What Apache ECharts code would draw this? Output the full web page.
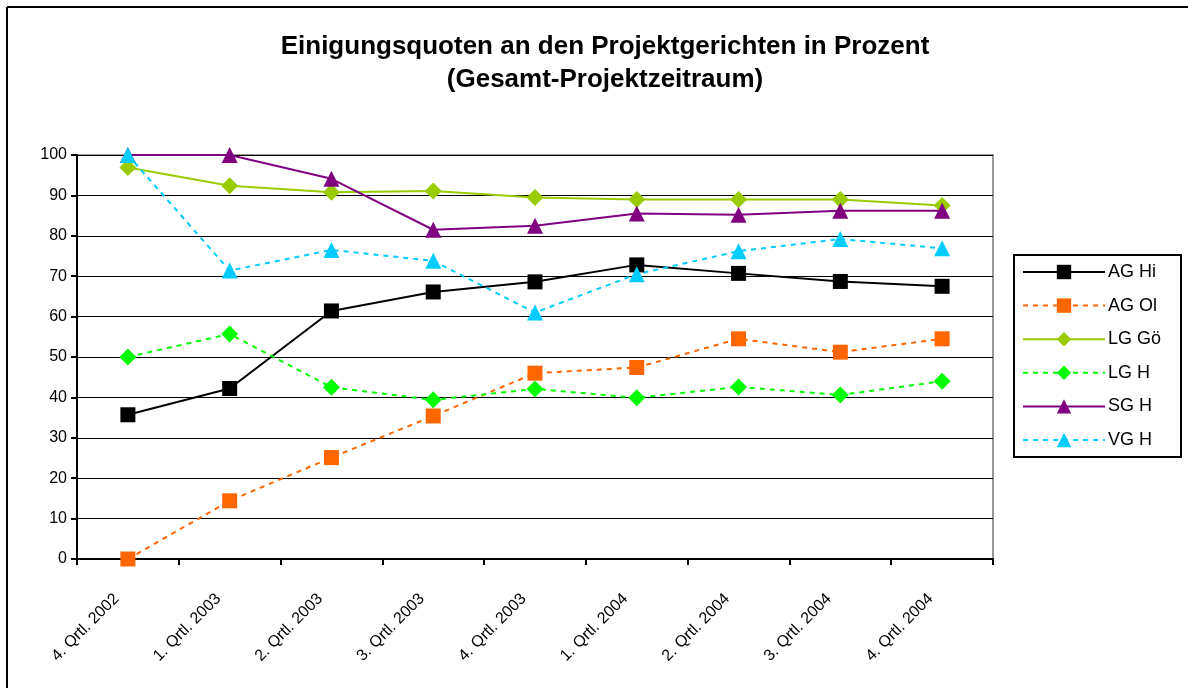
<!DOCTYPE html>
<html>
<head>
<meta charset="utf-8">
<script src="https://cdn.jsdelivr.net/npm/echarts@6/dist/echarts.min.js"></script>
<style>
html,body{margin:0;padding:0;background:#fff;}
#chart{width:1188px;height:688px;}
</style>
</head>
<body>
<div id="chart"></div>
<script>
const categories = ['4. Qrtl. 2002','1. Qrtl. 2003','2. Qrtl. 2003','3. Qrtl. 2003','4. Qrtl. 2003','1. Qrtl. 2004','2. Qrtl. 2004','3. Qrtl. 2004','4. Qrtl. 2004'];
const agHi = [35.7, 42.2, 61.4, 66.1, 68.6, 72.8, 70.7, 68.7, 67.5];
const agOl = [0, 14.4, 25.1, 35.4, 46.0, 47.4, 54.5, 51.2, 54.5];
const lgGoe = [96.9, 92.4, 90.8, 91.1, 89.5, 89.0, 89.0, 89.0, 87.5];
const lgH = [50.0, 55.7, 42.5, 39.4, 42.1, 39.9, 42.6, 40.6, 44.0];
const sgH = [100, 100, 94.1, 81.5, 82.5, 85.5, 85.2, 86.2, 86.2];
const vgH = [100, 71.4, 76.5, 73.8, 61.0, 70.5, 76.2, 79.2, 76.9];
const yTicks = {min: 0, max: 100, interval: 10};

const chart = echarts.init(document.getElementById('chart'), null, {renderer: 'canvas'});
const font = 'Liberation Sans, Arial, sans-serif';
function mk(name, data, color, symbol, dashed, size) {
  return {
    name: name, type: 'line', data: data,
    symbol: symbol, symbolSize: size, showSymbol: true,
    itemStyle: {color: color},
    lineStyle: {color: color, width: 2, type: dashed ? [5, 5] : 'solid'},
    emphasis: {disabled: true},
    animation: false
  };
}
chart.setOption({
  backgroundColor: '#ffffff',
  animation: false,
  title: {
    text: 'Einigungsquoten an den Projektgerichten in Prozent\n(Gesamt-Projektzeitraum)',
    left: 600, top: 25, textAlign: 'center',
    textStyle: {fontFamily: font, fontSize: 26, fontWeight: 'bold', color: '#000', lineHeight: 33}
  },
  graphic: [
    {type: 'line', shape: {x1: 7, y1: 7, x2: 1188, y2: 7}, style: {stroke: '#000', lineWidth: 2}, z: 100},
    {type: 'line', shape: {x1: 7, y1: 7, x2: 7, y2: 688}, style: {stroke: '#000', lineWidth: 2}, z: 100},
    {type: 'rect', shape: {x: 1014, y: 255, width: 167, height: 202}, style: {fill: 'none', stroke: '#000', lineWidth: 2}, z: 100}
  ],
  legend: {
    orient: 'vertical',
    left: 1014, top: 255,
    padding: [8, 6, 8, 8],
    itemWidth: 82, itemHeight: 18, itemGap: 15.6,
    textStyle: {fontFamily: font, fontSize: 18, color: '#000', padding: [0, 0, 0, -2]},
    data: ['AG Hi','AG Ol','LG Gö','LG H','SG H','VG H']
  },
  grid: {left: 77, right: 195, top: 155, bottom: 129, show: true, borderColor: '#999', borderWidth: 2, backgroundColor: 'transparent'},
  xAxis: {
    type: 'category', data: categories, boundaryGap: true,
    axisLine: {lineStyle: {color: '#000', width: 2}},
    axisTick: {show: true, length: 6, lineStyle: {color: '#000', width: 2}},
    axisLabel: {rotate: 45, fontFamily: font, fontSize: 16, color: '#000', margin: 26, interval: 0, padding: [0, 16, 0, 0]},
    splitLine: {show: false}
  },
  yAxis: {
    type: 'value', min: yTicks.min, max: yTicks.max, interval: yTicks.interval,
    axisLine: {show: true, lineStyle: {color: '#000', width: 2}},
    axisTick: {show: true, length: 6, lineStyle: {color: '#000', width: 2}},
    axisLabel: {fontFamily: font, fontSize: 16, color: '#000', margin: 10},
    splitLine: {show: true, lineStyle: {color: '#000', width: 1}}
  },
  series: [
    mk('AG Hi', agHi, '#000000', 'rect', false, 15),
    mk('AG Ol', agOl, '#FF6600', 'rect', true, 15),
    mk('LG Gö', lgGoe, '#99CC00', 'diamond', false, 17),
    mk('LG H', lgH, '#00FF00', 'diamond', true, 17),
    mk('SG H', sgH, '#800080', 'triangle', false, 16),
    mk('VG H', vgH, '#00CCFF', 'triangle', true, 16)
  ]
});
</script>
</body>
</html>
